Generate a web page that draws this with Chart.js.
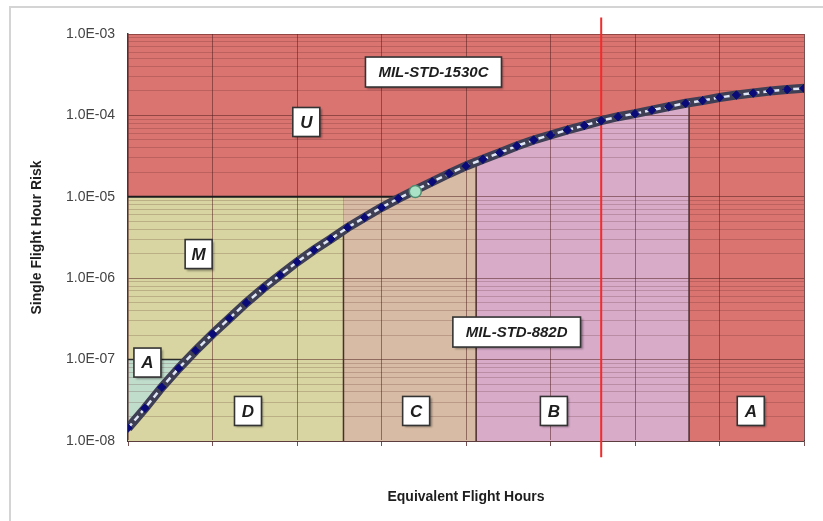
<!DOCTYPE html>
<html><head><meta charset="utf-8">
<script src="https://cdn.jsdelivr.net/npm/chart.js@4.4.1/dist/chart.umd.min.js"></script>
<style>
html,body{margin:0;padding:0;background:#fff;}
#wrap{position:relative;width:823px;height:521px;overflow:hidden;}
#frame{position:absolute;left:9px;top:6px;width:830px;height:530px;border-left:2px solid #d4d4d4;border-top:2px solid #d4d4d4;}
canvas{position:absolute;left:0;top:0;}
</style></head><body>
<div id="wrap"><div id="frame"></div><canvas id="c" width="823" height="521"></canvas></div>
<script>
// ---- data ----
const hours = [0,0.2,0.4,0.6,0.8,1,1.2,1.4,1.6,1.8,2,2.2,2.4,2.6,2.8,3,3.2,3.4,3.6,3.8,4,4.2,4.4,4.6,4.8,5,5.2,5.4,5.6,5.8,6,6.2,6.4,6.6,6.8,7,7.2,7.4,7.6,7.8,8];
const risk = [1.44e-8,2.52e-8,4.57e-8,7.82e-8,1.29e-7,2.06e-7,3.21e-7,5.00e-7,7.51e-7,1.09e-6,
              1.58e-6,2.22e-6,3.03e-6,4.20e-6,5.57e-6,7.39e-6,9.53e-6,1.21e-5,1.53e-5,1.93e-5,
              2.39e-5,2.89e-5,3.48e-5,4.21e-5,4.99e-5,5.74e-5,6.62e-5,7.52e-5,8.61e-5,9.64e-5,
              1.05e-4,1.16e-4,1.28e-4,1.41e-4,1.52e-4,1.66e-4,1.78e-4,1.88e-4,1.99e-4,2.08e-4,2.15e-4];
const yTickValues = [1e-8,1e-7,1e-6,1e-5,1e-4,1e-3];
const yTickLabels = ['1.0E-08','1.0E-07','1.0E-06','1.0E-05','1.0E-04','1.0E-03'];
const zoneEdgeHours = [2.55, 4.12, 6.64];        // D|C, C|B, B|A
const zoneEdgeRisk  = [3.9e-6, 2.6e-5, 1.43e-4];  // curve value at each edge
const limit1530 = 1e-5, limit1530Hour = 3.22;     // MIL-STD-1530C limit and where the curve crosses it
const limitA = 1e-7, limitAHour = 0.70;           // probability level A limit
const redLineHour = 5.6, redLineTop = 1.6e-3, redLineBottom = 6.3e-9;
const markHour = 3.4, markRisk = 1.16e-5;
const annotations = [
  {text:'MIL-STD-1530C', x:3.615, y:3.41e-4, wide:true},
  {text:'U', x:2.11, y:8.3e-5},
  {text:'M', x:0.836, y:1.98e-6},
  {text:'A', x:0.23, y:9.2e-8},
  {text:'D', x:1.42, y:2.34e-8},
  {text:'C', x:3.41, y:2.34e-8},
  {text:'B', x:5.04, y:2.34e-8},
  {text:'A', x:7.37, y:2.34e-8},
  {text:'MIL-STD-882D', x:4.60, y:2.18e-7, wide:true}
];

// ---- helpers ----
const pts = (xs, ys) => xs.map((x,i)=>({x, y:ys[i]}));
const curve = pts(hours, risk);
const seg = (a,b) => curve.filter(p => p.x > a && p.x < b);
const FONT = '"Liberation Sans", Arial, sans-serif';
const yGrid = [];
yTickValues.forEach((d,i)=>{ for(let k=1;k<=9;k++){ if(i===yTickValues.length-1 && k>1) break; yGrid.push(Number((k*d).toPrecision(3))); } });
const decadeIndex = v => yTickValues.findIndex(t => Math.abs(v/t-1) < 1e-6);

const RED='#da7471', KHAKI='#d8d5a2', TAN='#d7bba4', PINK='#d8abc9', GREEN='#c0ddcc';
const area = (data, color, order, extra) => Object.assign({type:'line', data, fill:'start', backgroundColor:color, borderWidth:0, pointRadius:0, order}, extra||{});
const line = (data, color, width, order, extra) => Object.assign({type:'line', data, fill:false, borderColor:color, borderWidth:width, pointRadius:0, order}, extra||{});

const datasets = [
  area([{x:0,y:1e-3},{x:8,y:1e-3}], RED, 100),
  area([{x:0,y:limit1530},{x:zoneEdgeHours[0],y:limit1530}], KHAKI, 90),
  area([{x:zoneEdgeHours[0],y:limit1530},{x:limit1530Hour,y:limit1530}, ...seg(limit1530Hour, zoneEdgeHours[1]), {x:zoneEdgeHours[1],y:zoneEdgeRisk[1]}], TAN, 90),
  area([{x:zoneEdgeHours[1],y:zoneEdgeRisk[1]}, ...seg(zoneEdgeHours[1], zoneEdgeHours[2]), {x:zoneEdgeHours[2],y:zoneEdgeRisk[2]}], PINK, 90),
  area([{x:0,y:limitA},{x:limitAHour,y:limitA}], GREEN, 85),
  area([...seg(-1, limitAHour), {x:limitAHour,y:limitA}], KHAKI, 80, {gridAbove:true}),
  line([{x:0,y:limit1530},{x:limit1530Hour,y:limit1530}], '#1c1c1c', 2, 50),
  line([{x:0,y:limitA},{x:limitAHour,y:limitA}], '#2a2a2a', 1.5, 50),
  line([{x:zoneEdgeHours[0],y:1e-8},{x:zoneEdgeHours[0],y:zoneEdgeRisk[0]}], '#4a2e2e', 1.5, 50),
  line([{x:zoneEdgeHours[1],y:1e-8},{x:zoneEdgeHours[1],y:zoneEdgeRisk[1]}], '#4a2e2e', 1.5, 50),
  line([{x:zoneEdgeHours[2],y:1e-8},{x:zoneEdgeHours[2],y:zoneEdgeRisk[2]}], '#4a2e2e', 1.5, 50),
  line([{x:redLineHour,y:redLineTop},{x:redLineHour,y:redLineBottom}], '#f22b2b', 2, 40, {clip:false}),
  line(curve, '#3e3e54', 9, 20),
  line(curve, '#dfe6f5', 2.5, 10, {borderDash:[6,4], pointRadius:4.2, pointStyle:'rectRot', pointBackgroundColor:'#0a0a78', pointBorderColor:'#0a0a78', pointBorderWidth:1}),
  {type:'line', data:[{x:markHour,y:markRisk}], showLine:false, pointRadius:6, pointBackgroundColor:'#a9e2c6', pointBorderColor:'#4f8c70', pointBorderWidth:1.5, order:5}
];

const gridOverFills = {
  id:'gridOverFills',
  afterDatasetDraw(chart, args){
    if (chart.data.datasets[args.index].gridAbove) {
      chart.ctx.save();
      chart.scales.x.drawGrid(chart.chartArea);
      chart.scales.y.drawGrid(chart.chartArea);
      chart.ctx.restore();
    }
  }
};
const labelBoxes = {
  id:'labelBoxes',
  afterDatasetsDraw(chart){
    const ctx = chart.ctx, xs = chart.scales.x, ys = chart.scales.y;
    annotations.forEach(a=>{
      const px = xs.getPixelForValue(a.x), py = ys.getPixelForValue(a.y);
      ctx.save();
      ctx.font = a.wide ? 'italic bold 15px '+FONT : 'italic bold 17px '+FONT;
      const w = a.wide ? ctx.measureText(a.text).width + 26 : 27;
      const h = a.wide ? 30 : 29;
      ctx.shadowColor = 'rgba(0,0,0,0.35)'; ctx.shadowOffsetX = 2; ctx.shadowOffsetY = 2; ctx.shadowBlur = 2;
      ctx.fillStyle = '#ffffff';
      ctx.fillRect(px-w/2, py-h/2, w, h);
      ctx.shadowColor = 'transparent';
      ctx.strokeStyle = '#333'; ctx.lineWidth = 1.6;
      ctx.strokeRect(px-w/2, py-h/2, w, h);
      ctx.fillStyle = '#1e1e1e'; ctx.textAlign='center'; ctx.textBaseline='middle';
      ctx.fillText(a.text, px, py+1);
      ctx.restore();
    });
  }
};

new Chart(document.getElementById('c'), {
  data:{datasets},
  options:{
    responsive:false, animation:false, devicePixelRatio:1,
    layout:{padding:{left:12,right:19,top:34,bottom:10}},
    plugins:{legend:{display:false}, tooltip:{enabled:false}},
    scales:{
      x:{type:'linear', min:0, max:8,
         ticks:{display:false, stepSize:1},
         grid:{color:'rgba(75,25,25,0.5)', lineWidth:1, tickLength:5},
         border:{color:'#3a3a3a', width:1.5},
         title:{display:true, text:'Equivalent Flight Hours', color:'#1e1e1e', font:{family:FONT, size:14, weight:'bold'}, padding:{top:0,bottom:5}},
         afterFit: s => { s.height = 70; }},
      y:{type:'logarithmic', min:1e-8, max:1e-3,
         afterBuildTicks: s => { s.ticks = yGrid.map(v => ({value:v, major: decadeIndex(v) >= 0})); },
         ticks:{autoSkip:false, padding:13, color:'#444', font:{family:FONT, size:14},
                callback: v => { const i = decadeIndex(v); return i >= 0 ? yTickLabels[i] : ''; }},
         grid:{drawTicks:false, lineWidth:1,
               color: c => (c.tick && decadeIndex(c.tick.value) >= 0) ? 'rgba(75,25,25,0.5)' : 'rgba(75,25,25,0.2)'},
         border:{color:'#3a3a3a', width:1.5},
         title:{display:true, text:'Single Flight Hour Risk', color:'#1e1e1e', font:{family:FONT, size:14, weight:'bold'}, padding:{top:17,bottom:0}},
         afterFit: s => { s.width = 116; }}
    }
  },
  plugins:[gridOverFills, labelBoxes]
});
</script>
</body></html>
